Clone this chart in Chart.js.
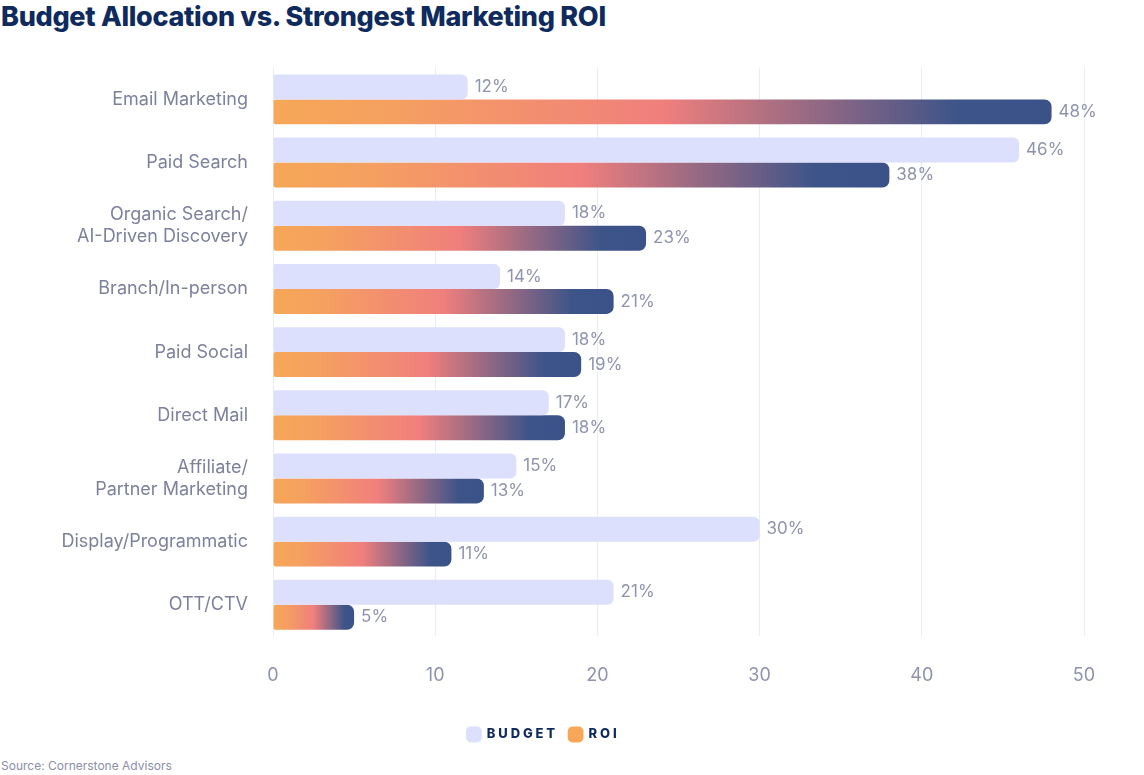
<!DOCTYPE html>
<html><head><meta charset="utf-8">
<script src="https://cdn.jsdelivr.net/npm/chart.js@4/dist/chart.umd.min.js"></script>
<style>
body{margin:0;background:#fff;width:1144px;height:775px;overflow:hidden;font-family:Inter,"Noto Sans",sans-serif;}
#title{position:absolute;left:1px;top:0px;font-size:27px;font-weight:800;color:#0f2b5e;letter-spacing:-0.3px;}
#src{position:absolute;left:1px;top:758px;font-size:12px;color:#8a8ea8;}
#wrap{position:absolute;left:0;top:40px;width:1144px;height:715px;}
</style></head><body>
<div id="title">Budget Allocation vs. Strongest Marketing ROI</div>
<div id="wrap"><canvas id="c"></canvas></div>
<div id="src">Source: Cornerstone Advisors</div>
<script>
const categories=[["Email Marketing"],["Paid Search"],["Organic Search/","AI-Driven Discovery"],["Branch/In-person"],["Paid Social"],["Direct Mail"],["Affiliate/","Partner Marketing"],["Display/Programmatic"],["OTT/CTV"]];
const budget=[12,46,18,14,18,17,15,30,21];
const roi=[48,38,23,21,19,18,13,11,5];
const xTicks=[0,10,20,30,40,50];

function grad(ctx,x0,x1){
  const g=ctx.createLinearGradient(x0,0,x1,0);
  g.addColorStop(0,'#f6a757');g.addColorStop(0.15,'#f5a060');g.addColorStop(0.5,'#f07f7d');g.addColorStop(0.88,'#3d5489');g.addColorStop(1,'#3a5288');
  return g;
}
const labelPlugin={id:'lbl',afterDatasetsDraw(chart){
  const ctx=chart.ctx;ctx.save();ctx.font='17px Inter, "Noto Sans", sans-serif';ctx.fillStyle='#8f93ad';ctx.textBaseline='middle';
  chart.data.datasets.forEach((ds,i)=>{chart.getDatasetMeta(i).data.forEach((el,j)=>{ctx.fillText(ds.data[j]+'%',el.x+7,el.y);});});
  ctx.restore();}};
new Chart(document.getElementById('c'),{type:'bar',
data:{labels:categories,datasets:[
 {label:'BUDGET',data:budget,backgroundColor:'#dde0fc',borderRadius:{topLeft:2,bottomLeft:2,topRight:6,bottomRight:6},borderSkipped:false},
 {label:'ROI',data:roi,borderRadius:{topLeft:2,bottomLeft:2,topRight:7,bottomRight:7},borderSkipped:false,
  backgroundColor:(c)=>{const ch=c.chart;if(!ch.chartArea)return '#f08080';const s=ch.scales.x;const v=c.raw||0;return grad(ch.ctx,s.getPixelForValue(0),s.getPixelForValue(v));}}
]},
options:{indexAxis:'y',responsive:true,maintainAspectRatio:false,animation:false,
 layout:{padding:{top:0,right:60,bottom:4,left:0}},
 datasets:{bar:{categoryPercentage:0.79,barPercentage:1}},
 scales:{
  x:{min:0,max:50,afterBuildTicks:(s)=>{s.ticks=xTicks.map(v=>({value:v}));},
     grid:{color:'#e9eafa',drawTicks:false,lineWidth:1},border:{display:false},
     ticks:{color:'#8f93ad',font:{size:18,family:'Inter'},padding:28}},
  y:{grid:{display:false},border:{display:false},afterFit:(s)=>{s.width=273;},
     ticks:{color:'#7d819c',font:{size:18,family:'Inter'},padding:17,crossAlign:'near'}}
 },
 plugins:{tooltip:{enabled:false},
  legend:{position:'bottom',labels:{usePointStyle:true,pointStyle:'rectRounded',boxWidth:16,boxHeight:16,padding:14,color:'#0f2b5e',font:{size:13,weight:'800',family:'Inter'},
   generateLabels:(ch)=>{const g=ch.ctx.createLinearGradient(582,0,598,0);g.addColorStop(0,'#f6a757');g.addColorStop(0.5,'#f07f7d');g.addColorStop(1,'#3a5288');
    return [{text:'B U D G E T',fillStyle:'#dde0fc',strokeStyle:'#dde0fc',lineWidth:0,pointStyle:'rectRounded',datasetIndex:0,fontColor:'#0f2b5e'},
    {text:'R O I',fillStyle:g,strokeStyle:'rgba(0,0,0,0)',lineWidth:0,pointStyle:'rectRounded',datasetIndex:1,fontColor:'#0f2b5e'}];}}}}
},plugins:[labelPlugin]});
</script></body></html>
